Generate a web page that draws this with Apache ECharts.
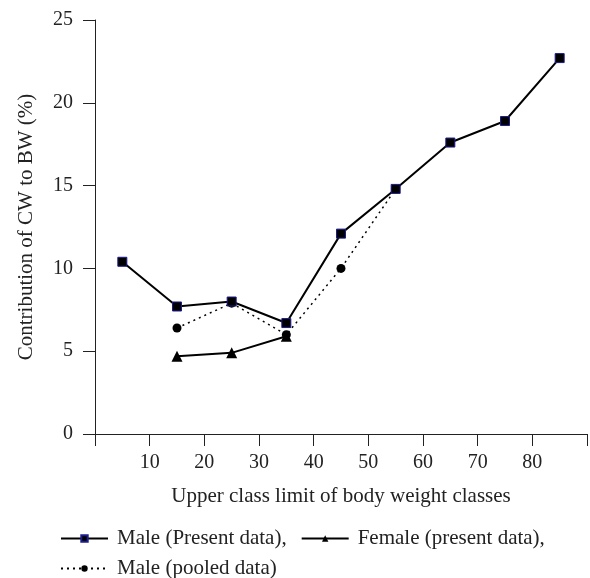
<!DOCTYPE html>
<html>
<head>
<meta charset="utf-8">
<script src="https://cdn.jsdelivr.net/npm/echarts@6/dist/echarts.min.js"></script>
<style>html,body{margin:0;padding:0;background:#fff}#c{width:590px;height:578px}</style>
</head>
<body>
<div id="c"></div>
<script>
const xClasses = [5, 15, 25, 35, 45, 55, 65, 75, 85];
const malePresent = [10.4, 7.7, 8.0, 6.7, 12.1, 14.8, 17.6, 18.9, 22.7];
const femalePresent = [null, 4.7, 4.9, 5.9, null, null, null, null, null];
const malePooled = [null, 6.4, 7.9, 6.0, 10.0, 14.8, null, null, null];
const seriesNames = ['Male (Present data)', 'Female (present data)', 'Male (pooled data)'];

const font = 'Liberation Serif, Times New Roman, serif';
const pairs = arr => xClasses.map((x, i) => [x, arr[i]]).filter(p => p[1] !== null);

const chart = echarts.init(document.getElementById('c'));
chart.setOption({
  animation: false,
  backgroundColor: '#fff',
  grid: { left: 95, top: 20, right: 0, bottom: 144, containLabel: false },
  xAxis: {
    type: 'value', min: 0, max: 90, interval: 10,
    name: 'Upper class limit of body weight classes',
    nameLocation: 'middle', nameGap: 52,
    nameTextStyle: { fontFamily: font, fontSize: 21, color: '#222' },
    axisLine: { lineStyle: { color: '#222', width: 1 } },
    axisTick: { show: true, length: 12, lineStyle: { color: '#222' } },
    axisLabel: { fontFamily: font, fontSize: 20, color: '#222', margin: 19,
      formatter: v => (v === 0 || v === 90) ? '' : String(v) },
    splitLine: { show: false }
  },
  yAxis: {
    type: 'value', min: 0, max: 25, interval: 5,
    name: 'Contribution of CW to BW (%)',
    nameLocation: 'middle', nameGap: 58,
    nameTextStyle: { fontFamily: font, fontSize: 21, color: '#222' },
    axisLine: { show: true, lineStyle: { color: '#222', width: 1 } },
    axisTick: { show: true, length: 12, lineStyle: { color: '#222' } },
    axisLabel: { fontFamily: font, fontSize: 20, color: '#222', margin: 22 },
    splitLine: { show: false }
  },
  legend: [
    {
      data: [seriesNames[0], seriesNames[1]],
      left: 55, top: 523, itemWidth: 47, itemHeight: 8, itemGap: 14,
      formatter: n => n + ',',
      textStyle: { fontFamily: font, fontSize: 21, color: '#222', padding: [0, 0, 0, 4] }
    },
    {
      data: [seriesNames[2]],
      left: 55, top: 553, itemWidth: 47, itemHeight: 8,
      textStyle: { fontFamily: font, fontSize: 21, color: '#222', padding: [0, 0, 0, 4] }
    }
  ],
  series: [
    {
      name: seriesNames[2], type: 'line', data: pairs(malePooled),
      symbol: 'circle', symbolSize: 9, z: 2,
      lineStyle: { color: '#000', width: 1.5, type: [2, 4] },
      itemStyle: { color: '#000' }
    },
    {
      name: seriesNames[1], type: 'line', data: pairs(femalePresent),
      symbol: 'triangle', symbolSize: 11, z: 3,
      lineStyle: { color: '#000', width: 2 },
      itemStyle: { color: '#000' }
    },
    {
      name: seriesNames[0], type: 'line', data: pairs(malePresent),
      symbol: 'rect', symbolSize: 9, z: 4,
      lineStyle: { color: '#000', width: 2 },
      itemStyle: { color: '#000', borderColor: '#1c1c8c', borderWidth: 1 }
    }
  ]
});
</script>
</body>
</html>
